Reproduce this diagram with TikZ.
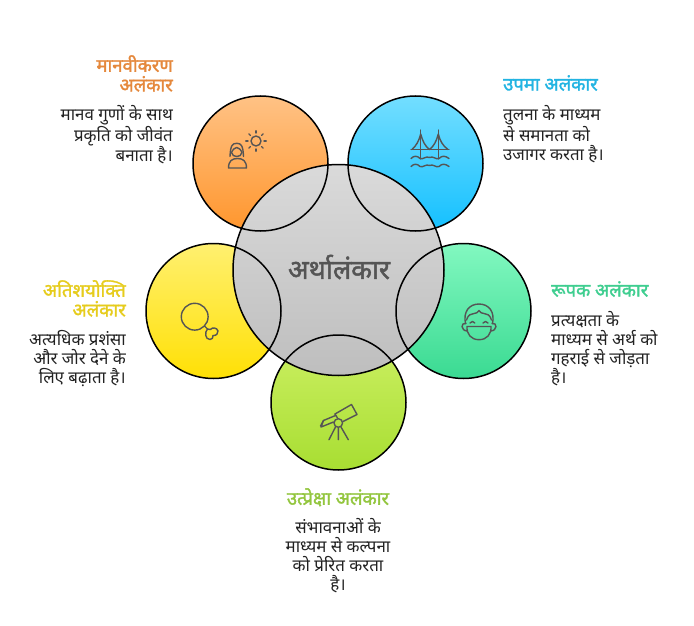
\documentclass[tikz,border=0pt]{standalone}
\usepackage{fontspec}
\usetikzlibrary{calc}
\newfontfamily\hi[Script=Devanagari]{Noto Sans}
\newfontfamily\hib[Script=Devanagari,FakeBold=1.6]{Noto Sans}
\definecolor{ttorange}{HTML}{E5883C}
\definecolor{ttblue}{HTML}{22B4E2}
\definecolor{ttgreen}{HTML}{3FCE90}
\definecolor{ttyellow}{HTML}{E6CC1C}
\definecolor{ttlime}{HTML}{93C63E}
\definecolor{icon}{HTML}{555555}
\definecolor{bodytxt}{HTML}{222222}
\definecolor{oT}{HTML}{FFC285}\definecolor{oB}{HTML}{FF962D}
\definecolor{bT}{HTML}{73DEFF}\definecolor{bB}{HTML}{14C0FF}
\definecolor{gT}{HTML}{82F8C0}\definecolor{gB}{HTML}{3ADA92}
\definecolor{yT}{HTML}{FFF070}\definecolor{yB}{HTML}{FFE005}
\definecolor{lT}{HTML}{CDF064}\definecolor{lB}{HTML}{A8DE32}
\definecolor{cT}{HTML}{DADADA}\definecolor{cB}{HTML}{BEBEBE}
\tikzset{
  x=1pt,y=-1pt,
  ring/.style={draw=black,line width=1.5pt},
  ico/.style={draw=icon,line width=1.4pt,line cap=round,line join=round},
  ttl/.style={inner sep=0pt,font=\hib\fontsize{18.5}{19.6}\selectfont},
  bdy/.style={inner sep=0pt,text=bodytxt,font=\hi\fontsize{16.9}{19.2}\selectfont},
}
\begin{document}
\begin{tikzpicture}
\useasboundingbox (0,0) rectangle (694,626);
\fill[white] (0,0) rectangle (694,626);
% satellites
\coordinate (co) at (260.5,163.5);
\coordinate (cb) at (415.5,163.5);
\coordinate (cg) at (463.5,311);
\coordinate (cy) at (213.5,311);
\coordinate (cl) at (338.5,402.5);
\coordinate (cc) at (338.5,270);
\shade[top color=oT,bottom color=oB] (co) circle[radius=67.5];
\shade[top color=bT,bottom color=bB] (cb) circle[radius=67.5];
\shade[top color=gT,bottom color=gB] (cg) circle[radius=67.5];
\shade[top color=yT,bottom color=yB] (cy) circle[radius=67.5];
\shade[top color=lT,bottom color=lB] (cl) circle[radius=67.5];
% centre
\shade[top color=cT,bottom color=cB] (cc) circle[radius=105.5];
\foreach \c in {co,cb,cg,cy,cl} \draw[ring] (\c) circle[radius=67.5];
\draw[ring] (cc) circle[radius=105.5];
\node[inner sep=0pt,text=icon,font=\hib\fontsize{27}{30}\selectfont] (centre) at (339,267) {अर्थालंकार};
% person + sun
\draw[ico] (230,156.5) .. controls (230.5,146) and (232,143.3) .. (236.7,143.3) .. controls (241.5,143.3) and (243,146) .. (243.5,156.5);
\draw[ico] (231.5,152.5) .. controls (233,149) and (235,148) .. (236.7,147.5) .. controls (238.5,148) and (240.5,149) .. (242,152.5) .. controls (241.5,155.5) and (239,156.5) .. (236.7,156.5) .. controls (234.5,156.5) and (232,155.5) .. (231.5,152.5);
\draw[ico] (228.5,168) .. controls (228.5,161) and (232,158.5) .. (237.5,158.5) .. controls (243,158.5) and (246.5,161) .. (246.5,168) -- cycle;
\draw[ico] (256,141) circle[radius=5];
\foreach \a in {0,45,...,315} \draw[ico] ($(256,141)+(\a:8)$) -- ($(256,141)+(\a:10.2)$);
% bridge
\draw[ico] (420.7,130) -- (420.7,159) (438.3,130) -- (438.3,159);
\draw[ico] (411,149.5) -- (449,149.5);
\draw[ico] (412,149.5) .. controls (416,146) and (419,141) .. (420.7,134) .. controls (422.5,141) and (425,146) .. (429.5,149.5) .. controls (434,146) and (436.5,141) .. (438.3,134) .. controls (440,141) and (443,146) .. (448,149.5);
\foreach \yy in {158.5,166.5} {
 \draw[ico] (411,\yy) .. controls (414,\yy-3) and (417,\yy-3) .. (420,\yy) .. controls (423,\yy+1.5) and (426,\yy-3) .. (429.5,\yy-1) .. controls (433,\yy-3) and (436,\yy+1.5) .. (439,\yy) .. controls (442,\yy-3) and (445,\yy-3) .. (449,\yy);
}
% masked face
\draw[ico] (465.5,323.5) .. controls (463,312) and (469,304) .. (479,304) .. controls (489,304) and (495,312) .. (492.5,323.5);
\draw[ico] (466.5,320) .. controls (468,315) and (471,313.5) .. (474,313.5) .. controls (476,313.5) and (478,312.5) .. (479,310.5) .. controls (480,312.5) and (482,313.5) .. (484,313.5) .. controls (487,313.5) and (490,315) .. (491.5,320);
\draw[ico] (467,326.5) -- (491,326.5) .. controls (491.5,334) and (487,339.7) .. (479,339.7) .. controls (471,339.7) and (466.5,334) .. (467,326.5) -- cycle;
\draw[ico] (466,323.5) .. controls (460.5,322) and (460.5,331) .. (467.5,331);
\draw[ico] (492,323.5) .. controls (497.5,322) and (497.5,331) .. (490.5,331);
\draw[ico] (470,323) .. controls (471.5,321) and (473.5,321) .. (474.8,323);
\draw[ico] (483,323) .. controls (484.5,321) and (486.5,321) .. (488,323);
% telescope
\draw[ico] (338.3,423) circle[radius=4.3];
\draw[ico] (335.5,427) -- (329,439.7) (338.3,428) -- (338.3,439.7) (341,427) -- (348.3,439.7);
\draw[ico] (335.5,415.5) -- (323.5,420.5) -- (321,427) -- (333.5,422);
\draw[ico] (323.5,420.5) -- (320.5,426);
\draw[ico] (335,414) -- (351.5,404.5) -- (357,414.5) -- (343,421.5);
\draw[ico] (335,414) -- (337.5,418);
% balloon
\draw[ico] (194.7,316.7) circle[radius=13.4];
\draw[ico] (204.5,326) -- (207.5,329);
\draw[ico] (207.5,329) .. controls (204.5,332) and (205,339.5) .. (210,339.5) .. controls (212.5,339.5) and (213,337.5) .. (213,335.5) .. controls (216,336) and (218.5,333.5) .. (218,331) .. controls (217,327.5) and (212,327) .. (210.5,329.5) .. controls (209.5,330) and (208.5,329.5) .. (207.5,329) -- cycle;
% texts
\node[ttl,text=ttorange,anchor=north east,align=right] (t1) at (173,55) {मानवीकरण\\अलंकार};
\node[bdy,anchor=north east,align=right] (b1) at (173,105) {मानव गुणों के साथ\\प्रकृति को जीवंत\\बनाता है।};
\node[ttl,text=ttblue,anchor=north west,align=left] (t2) at (503,75) {उपमा अलंकार};
\node[bdy,anchor=north west,align=left] (b2) at (503,105) {तुलना के माध्यम\\से समानता को\\उजागर करता है।};
\node[ttl,text=ttgreen,anchor=north west,align=left] (t3) at (551,281) {रूपक अलंकार};
\node[bdy,anchor=north west,align=left] (b3) at (551,311) {प्रत्यक्षता के\\माध्यम से अर्थ को\\गहराई से जोड़ता\\है।};
\node[ttl,text=ttyellow,anchor=north east,align=right] (t4) at (126,280) {अतिशयोक्ति\\अलंकार};
\node[bdy,anchor=north east,align=right] (b4) at (126,330) {अत्यधिक प्रशंसा\\और जोर देने के\\लिए बढ़ाता है।};
\node[ttl,text=ttlime,anchor=north,align=center] (t5) at (338,488) {उत्प्रेक्षा अलंकार};
\node[bdy,anchor=north,align=center] (b5) at (338,518) {संभावनाओं के\\माध्यम से कल्पना\\को प्रेरित करता\\है।};
\end{tikzpicture}
\end{document}
